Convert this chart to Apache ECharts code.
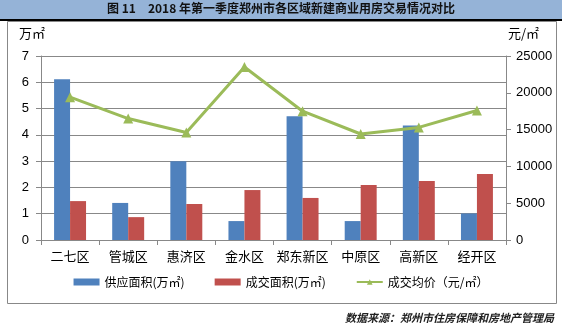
<!DOCTYPE html>
<html><head><meta charset="utf-8">
<script src="https://cdn.jsdelivr.net/npm/echarts@6/dist/echarts.min.js"></script>
<style>html,body{margin:0;padding:0;background:#fff}#c{width:562px;height:329px}</style>
</head><body><div id="c"></div>
<script>
var categories = ['二七区','管城区','惠济区','金水区','郑东新区','中原区','高新区','经开区'];
var supplyArea = [6.12, 1.41, 3.0, 0.72, 4.71, 0.72, 4.36, 1.01];
var dealArea = [1.48, 0.87, 1.37, 1.9, 1.6, 2.09, 2.24, 2.51];
var avgPrice = [19400, 16500, 14600, 23500, 17500, 14400, 15300, 17600];
var leftTicks = [0, 7, 1];
var rightTicks = [0, 25000, 5000];

var chart = echarts.init(document.getElementById('c'), null, {renderer:'canvas'});
var axisColor = '#888';
var font = 'Liberation Sans, Arial, sans-serif';
var cjk = 'Noto Sans CJK SC, sans-serif';
chart.setOption({
  animation: false,
  backgroundColor: '#fff',
  graphic: [
    {type:'rect', shape:{x:0,y:0,width:562,height:19}, style:{fill:'#95b3d7'}, z:-1},
    {type:'rect', shape:{x:0,y:19,width:562,height:2}, style:{fill:'#000'}},
    {type:'rect', shape:{x:7.5,y:21.5,width:549,height:282}, style:{fill:'none', stroke:'#888', lineWidth:1}},
    {type:'text', left:'center', top:2, style:{text:'图 11　2018 年第一季度郑州市各区域新建商业用房交易情况对比', font:'bold 12px Noto Sans CJK SC, sans-serif', fill:'#111'}},
    {type:'text', right:8, top:312, style:{text:'数据来源：郑州市住房保障和房地产管理局', font:'italic bold 11px Noto Sans CJK SC, sans-serif', fill:'#222'}},
    {type:'text', left:19, top:27, style:{text:'万㎡', font:'13px Noto Sans CJK SC, sans-serif', fill:'#000'}},
    {type:'text', left:508, top:27, style:{text:'元/㎡', font:'13px Noto Sans CJK SC, sans-serif', fill:'#000'}}
  ],
  grid: {left:41, right:56, top:56, bottom:89},
  legend: {
    bottom: 36, left:'center', itemGap: 30,
    textStyle:{fontFamily:cjk, fontSize:12, color:'#000'},
    data:[
      {name:'供应面积(万㎡)', icon:'rect'},
      {name:'成交面积(万㎡)', icon:'rect'},
      {name:'成交均价（元/㎡）'}
    ],
    itemWidth: 26, itemHeight: 7
  },
  xAxis: {
    type:'category', data: categories,
    axisLine:{lineStyle:{color:axisColor}},
    axisTick:{show:true, alignWithLabel:false, lineStyle:{color:axisColor}, length:5},
    axisLabel:{color:'#000', fontFamily:cjk, fontSize:13, margin:10, interval:0}
  },
  yAxis: [
    {type:'value', min:leftTicks[0], max:leftTicks[1], interval:leftTicks[2],
     axisLine:{show:true, lineStyle:{color:axisColor}},
     axisTick:{show:true, lineStyle:{color:axisColor}, length:5},
     axisLabel:{color:'#000', fontFamily:font, fontSize:13, margin:12},
     splitLine:{lineStyle:{color:'#888', width:1}}},
    {type:'value', min:rightTicks[0], max:rightTicks[1], interval:rightTicks[2],
     axisLine:{show:true, lineStyle:{color:axisColor}},
     axisTick:{show:true, lineStyle:{color:axisColor}, length:5},
     axisLabel:{color:'#000', fontFamily:font, fontSize:13, margin:10, formatter:function(v){return String(v);}},
     splitLine:{show:false}}
  ],
  series: [
    {name:'供应面积(万㎡)', type:'bar', data:supplyArea, barGap:'0%', barCategoryGap:'45%', itemStyle:{color:'#4f81bd'}},
    {name:'成交面积(万㎡)', type:'bar', data:dealArea, itemStyle:{color:'#c0504d'}},
    {name:'成交均价（元/㎡）', type:'line', yAxisIndex:1, data:avgPrice, symbol:'triangle', symbolSize:10,
     lineStyle:{color:'#9bbb59', width:3}, itemStyle:{color:'#9bbb59'}}
  ]
});
</script></body></html>
